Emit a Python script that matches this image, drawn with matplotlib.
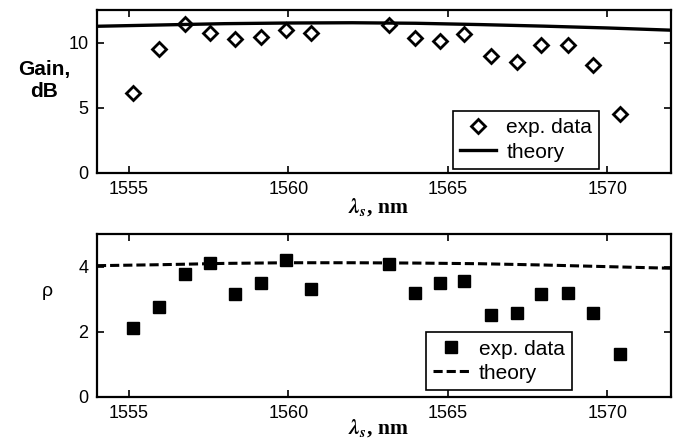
import numpy as np
import matplotlib
matplotlib.use('Agg')
from matplotlib import pyplot as plt

plt.rcParams['font.family'] = ['Liberation Sans', 'DejaVu Sans']
plt.rcParams['mathtext.fontset'] = 'stix'

# measured wavelengths (nm), same for both panels
wl = [1555.14, 1555.96, 1556.75, 1557.53, 1558.33, 1559.14, 1559.94, 1560.72,
      1563.16, 1563.97, 1564.76, 1565.51, 1566.36, 1567.17, 1567.93, 1568.75,
      1569.56, 1570.39]
gain_exp = [6.1, 9.5, 11.45, 10.75, 10.3, 10.4, 11.0, 10.75,
            11.35, 10.35, 10.1, 10.65, 8.95, 8.5, 9.8, 9.85, 8.3, 4.5]
rho_exp = [2.1, 2.77, 3.78, 4.12, 3.17, 3.49, 4.2, 3.32,
           4.07, 3.2, 3.49, 3.56, 2.52, 2.56, 3.15, 3.18, 2.58, 1.32]

# theory curves
wl_th = [1554, 1556, 1558, 1560, 1562, 1564, 1566, 1568, 1570, 1572]
gain_th = [11.25, 11.35, 11.45, 11.5, 11.52, 11.48, 11.38, 11.26, 11.12, 10.95]
rho_th = [4.03, 4.06, 4.1, 4.12, 4.12, 4.11, 4.09, 4.05, 4.0, 3.95]

xticks = [1555, 1560, 1565, 1570]

fig = plt.figure(figsize=(6.78, 4.43), dpi=100)
ax1 = fig.add_axes([0.143, 0.6095, 0.847, 0.368])
ax2 = fig.add_axes([0.143, 0.1045, 0.847, 0.367])

leg_kw = dict(loc='lower right', borderaxespad=0, fontsize=15, frameon=True,
              fancybox=False, edgecolor='black', framealpha=1,
              handlelength=1.7, borderpad=0.35, labelspacing=0.25,
              handletextpad=0.5)


def style(ax, ylab_y):
    ax.set_xlim(1554, 1572)
    ax.set_xticks(xticks)
    ax.tick_params(direction='in', top=True, right=True, length=5, width=1.2,
                   labelsize=13, pad=6)
    for s in ax.spines.values():
        s.set_linewidth(1.6)
    ax.set_xlabel(r'$\mathbfit{\lambda}_{\mathbfit{s}}$, nm',
                  family='Liberation Serif', fontweight='bold', fontsize=15.5)
    ax.xaxis.set_label_coords(0.49, ylab_y)


ax1.plot(wl, gain_exp, 'D', ms=7.5, mfc='white', mec='black', mew=2,
         ls='none', label='exp. data')
ax1.plot(wl_th, gain_th, '-', color='black', lw=2.4, label='theory')
style(ax1, -0.14)
ax1.set_ylim(0, 12.5)
ax1.set_yticks([0, 5, 10])
ax1.set_ylabel('Gain,\ndB', rotation=0, fontsize=15, fontweight='bold',
               ha='center', va='center', multialignment='center')
ax1.yaxis.set_label_coords(-0.092, 0.57)
ax1.legend(bbox_to_anchor=(0.875, 0.025), **leg_kw).get_frame().set_linewidth(1.2)

ax2.plot(wl, rho_exp, 's', ms=9, color='black', ls='none', label='exp. data')
ax2.plot(wl_th, rho_th, '--', color='black', lw=2.2, dashes=(3, 1.3),
         label='theory')
style(ax2, -0.125)
ax2.set_ylim(0, 5)
ax2.set_yticks([0, 2, 4])
ax2.set_ylabel('\u03c1', rotation=0, fontsize=14, ha='center', va='center')
ax2.yaxis.set_label_coords(-0.087, 0.65)
ax2.legend(bbox_to_anchor=(0.8275, 0.041), **leg_kw).get_frame().set_linewidth(1.2)

fig.savefig('out.png', dpi=100)
